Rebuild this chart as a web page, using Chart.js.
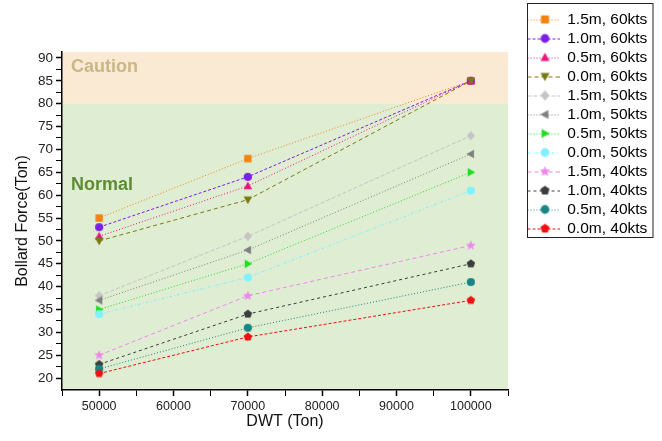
<!DOCTYPE html>
<html>
<head>
<meta charset="utf-8">
<script src="https://cdn.jsdelivr.net/npm/chart.js@4.4.1/dist/chart.umd.min.js"></script>
<style>
  html, body { margin: 0; padding: 0; background: #fff; }
  #wrap { width: 662px; height: 441px; }
</style>
</head>
<body>
<div id="wrap"><canvas id="bollardChart" width="662" height="441"></canvas></div>
<script>
// DWT of the ships (x axis)
const dwt = [50000, 70000, 100000];

// Bollard force (Ton), wave height / current speed cases
const force15m60 = [55, 68, 85];
const force10m60 = [53, 64, 85];
const force05m60 = [51, 62, 85];
const force00m60 = [50, 59, 85];
const force15m50 = [38, 51, 73];
const force10m50 = [37, 48, 69];
const force05m50 = [35, 45, 65];
const force00m50 = [34, 42, 61];
const force15m40 = [25, 38, 49];
const force10m40 = [23, 34, 45];
const force05m40 = [22, 31, 41];
const force00m40 = [21, 29, 37];

const seriesLabels = [
  "1.5m, 60kts", "1.0m, 60kts", "0.5m, 60kts", "0.0m, 60kts",
  "1.5m, 50kts", "1.0m, 50kts", "0.5m, 50kts", "0.0m, 50kts",
  "1.5m, 40kts", "1.0m, 40kts", "0.5m, 40kts", "0.0m, 40kts"
];
const seriesValues = [
  force15m60, force10m60, force05m60, force00m60,
  force15m50, force10m50, force05m50, force00m50,
  force15m40, force10m40, force05m40, force00m40
];

// tick labels
const xTickLabels = [50000, 60000, 70000, 80000, 90000, 100000];
const yTickLabels = [20, 25, 30, 35, 40, 45, 50, 55, 60, 65, 70, 75, 80, 85, 90];
const cautionLevel = 80;

// marker shape, colour and line dash for each series
const seriesStyles = [
  { shape: "square",   color: "#f5820f", dash: [1, 2] },
  { shape: "circle",   color: "#7a1fe6", dash: [3, 2] },
  { shape: "triUp",    color: "#e8167f", dash: [1, 2] },
  { shape: "triDown",  color: "#7a7a12", dash: [4, 3] },
  { shape: "diamond",  color: "#c4c4c4", dash: [4, 2] },
  { shape: "triLeft",  color: "#808080", dash: [1, 2] },
  { shape: "triRight", color: "#1ee01e", dash: [1, 2] },
  { shape: "circle",   color: "#80f2ff", dash: [3, 2, 1, 2] },
  { shape: "star",     color: "#ee86ee", dash: [4, 3] },
  { shape: "pentagon", color: "#3c3c3c", dash: [3, 3] },
  { shape: "circle",   color: "#188686", dash: [1, 2] },
  { shape: "pentagon", color: "#f01010", dash: [3, 2] }
];

function polygon(ctx, pts) {
  ctx.beginPath();
  pts.forEach((p, i) => i ? ctx.lineTo(p[0], p[1]) : ctx.moveTo(p[0], p[1]));
  ctx.closePath();
  ctx.fill();
}

function drawShape(ctx, shape, color, cx, cy, s) {
  ctx.fillStyle = color;
  if (shape === "square") {
    ctx.fillRect(cx - s, cy - s, 2 * s, 2 * s);
  } else if (shape === "circle") {
    ctx.beginPath();
    ctx.arc(cx, cy, s + 0.4, 0, Math.PI * 2);
    ctx.fill();
  } else if (shape === "triUp") {
    polygon(ctx, [[cx, cy - s * 1.2], [cx + s * 1.15, cy + s * 0.85], [cx - s * 1.15, cy + s * 0.85]]);
  } else if (shape === "triDown") {
    polygon(ctx, [[cx, cy + s * 1.2], [cx + s * 1.15, cy - s * 0.85], [cx - s * 1.15, cy - s * 0.85]]);
  } else if (shape === "triLeft") {
    polygon(ctx, [[cx - s * 1.2, cy], [cx + s * 0.85, cy - s * 1.15], [cx + s * 0.85, cy + s * 1.15]]);
  } else if (shape === "triRight") {
    polygon(ctx, [[cx + s * 1.2, cy], [cx - s * 0.85, cy - s * 1.15], [cx - s * 0.85, cy + s * 1.15]]);
  } else if (shape === "diamond") {
    polygon(ctx, [[cx, cy - s * 1.3], [cx + s * 1.1, cy], [cx, cy + s * 1.3], [cx - s * 1.1, cy]]);
  } else if (shape === "star") {
    const pts = [];
    for (let i = 0; i < 10; i++) {
      const r = i % 2 ? s * 0.6 : s * 1.4;
      const a = -Math.PI / 2 + i * Math.PI / 5;
      pts.push([cx + r * Math.cos(a), cy + r * Math.sin(a)]);
    }
    polygon(ctx, pts);
  } else if (shape === "pentagon") {
    const pts = [];
    for (let i = 0; i < 5; i++) {
      const a = -Math.PI / 2 + i * 2 * Math.PI / 5;
      pts.push([cx + s * 1.2 * Math.cos(a), cy + s * 1.2 * Math.sin(a)]);
    }
    polygon(ctx, pts);
  }
}

// marker image used on the plot
function pointIcon(st) {
  const c = document.createElement("canvas");
  c.width = 14; c.height = 14;
  drawShape(c.getContext("2d"), st.shape, st.color, 7, 7, 3.7);
  return c;
}

// line + marker image used in the legend
function legendIcon(st) {
  const c = document.createElement("canvas");
  c.width = 48; c.height = 14;
  const ctx = c.getContext("2d");
  ctx.strokeStyle = st.color;
  ctx.lineWidth = 1;
  ctx.setLineDash(st.dash);
  ctx.beginPath();
  ctx.moveTo(16, 7.5);
  ctx.lineTo(48, 7.5);
  ctx.stroke();
  drawShape(ctx, st.shape, st.color, 33.5, 7, 4);
  return c;
}

const legendIcons = seriesStyles.map(legendIcon);

const datasets = seriesLabels.map((label, i) => ({
  label: label,
  data: dwt.map((x, j) => ({ x: x, y: seriesValues[i][j] })),
  borderColor: seriesStyles[i].color,
  borderDash: seriesStyles[i].dash,
  borderWidth: 1,
  pointStyle: pointIcon(seriesStyles[i]),
  pointRadius: 4,
  fill: false,
  tension: 0,
  order: seriesLabels.length - i
}));

// plot background zones and their captions
const zonePlugin = {
  id: "zones",
  beforeDraw(chart) {
    const { ctx, chartArea: a, scales: { y } } = chart;
    const yc = y.getPixelForValue(cautionLevel);
    ctx.save();
    ctx.fillStyle = "#fbead3";
    ctx.fillRect(a.left, a.top, a.width, yc - a.top);
    ctx.fillStyle = "#dfedd3";
    ctx.fillRect(a.left, yc, a.width, a.bottom - yc);
    ctx.font = 'bold 18px "Liberation Sans Narrow", "Arial Narrow", sans-serif';
    ctx.textBaseline = "alphabetic";
    ctx.fillStyle = "#c9b787";
    ctx.fillText("Caution", a.left + 9, y.getPixelForValue(87));
    ctx.fillStyle = "#5e8d33";
    ctx.fillText("Normal", a.left + 9, y.getPixelForValue(61.1));
    ctx.restore();
  }
};

// fixed legend width + frame round the legend
const legendFrame = {
  id: "legendFrame",
  beforeInit(chart) {
    const fit = chart.legend.fit;
    chart.legend.fit = function () {
      fit.call(this);
      this.width = 154;
    };
  },
  afterDraw(chart) {
    const lg = chart.legend;
    const ctx = chart.ctx;
    ctx.save();
    ctx.strokeStyle = "#222";
    ctx.lineWidth = 1;
    ctx.strokeRect(lg.left + 19.5, 3.5, 653 - (lg.left + 19.5), 234);
    ctx.restore();
  }
};

Chart.defaults.font.family = '"Liberation Sans", Arial, sans-serif';
Chart.defaults.color = "#111";

const ctx = document.getElementById("bollardChart").getContext("2d");

const bollardChart = new Chart(ctx, {
  type: "line",
  data: { datasets: datasets },
  plugins: [zonePlugin, legendFrame],
  options: {
    responsive: false,
    animation: false,
    devicePixelRatio: 1,
    layout: { padding: { top: 8.25, right: 0, bottom: 0, left: 0 } },
    scales: {
      x: {
        type: "linear",
        min: 45000,
        max: 105000,
        afterBuildTicks: scale => {
          const t = [];
          for (let v = 45000; v <= 105000; v += 5000) t.push({ value: v });
          scale.ticks = t;
        },
        afterFit: scale => { scale.height = 51; },
        ticks: {
          autoSkip: false,
          maxRotation: 0,
          padding: 3,
          font: { size: 12.5 },
          color: "#222",
          callback: v => xTickLabels.includes(v) ? String(v) : ""
        },
        grid: {
          drawOnChartArea: false,
          tickLength: 6,
          tickColor: "#000",
          tickWidth: c => xTickLabels.includes(c.tick.value) ? 1.5 : 1
        },
        border: { color: "#000", width: 1.5 },
        title: {
          display: true,
          text: "DWT (Ton)",
          font: { size: 16 },
          color: "#111",
          padding: { top: 0, bottom: 10 }
        }
      },
      y: {
        min: 17.4,
        max: 91.3,
        afterBuildTicks: scale => {
          const t = [];
          for (let v = 20; v <= 90; v += 2.5) t.push({ value: v });
          scale.ticks = t;
        },
        afterFit: scale => { scale.width = 62; },
        ticks: {
          autoSkip: false,
          padding: 3,
          font: { size: 13.5 },
          color: "#222",
          callback: v => yTickLabels.includes(v) ? String(v) : ""
        },
        grid: {
          drawOnChartArea: false,
          tickLength: 6,
          tickColor: "#000",
          tickWidth: c => yTickLabels.includes(c.tick.value) ? 1.5 : 1
        },
        border: { color: "#000", width: 1.5 },
        title: {
          display: true,
          text: "Bollard Force(Ton)",
          font: { size: 16 },
          color: "#111",
          padding: { top: 13.4, bottom: 0 }
        }
      }
    },
    plugins: {
      title: {
        display: true,
        text: " ",
        font: { size: 10, lineHeight: 1 },
        padding: { top: 0, bottom: 33.75 }
      },
      tooltip: { enabled: false },
      legend: {
        position: "right",
        align: "start",
        labels: {
          usePointStyle: true,
          pointStyleWidth: 48,
          padding: 3.5,
          color: "#111",
          font: { size: 15.5 },
          generateLabels: chart => chart.data.datasets.map((ds, i) => ({
            text: ds.label,
            pointStyle: legendIcons[i],
            fillStyle: ds.borderColor,
            strokeStyle: ds.borderColor,
            lineWidth: 0,
            hidden: false,
            datasetIndex: i
          }))
        }
      }
    }
  }
});
</script>
</body>
</html>
